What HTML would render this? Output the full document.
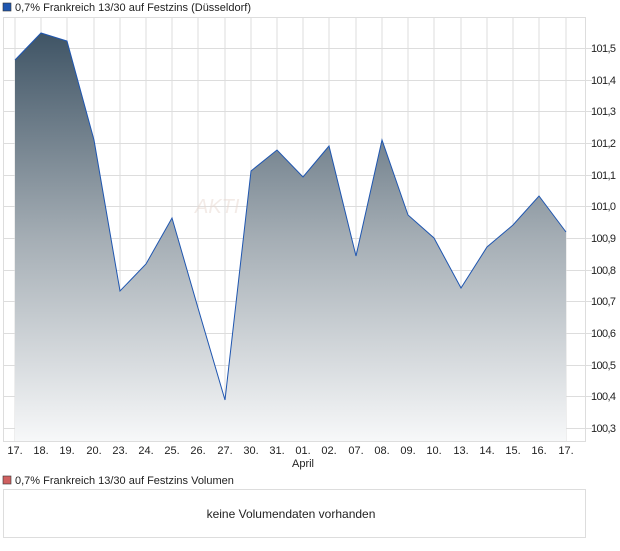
<!DOCTYPE html>
<html><head><style>
body{margin:0;background:#fff;font-family:"Liberation Sans",sans-serif;}
</style></head><body>
<svg width="620" height="546" xmlns="http://www.w3.org/2000/svg" font-family="Liberation Sans, sans-serif">
<defs><linearGradient id="g" gradientUnits="userSpaceOnUse" x1="0" y1="33" x2="0" y2="441">
<stop offset="0" stop-color="#3f5465"/><stop offset="0.5" stop-color="#a4adb4"/><stop offset="1" stop-color="#f7f8f9"/></linearGradient></defs>
<rect x="3" y="3" width="8" height="8" fill="#1f56b0" stroke="#333" stroke-width="0.6"/>
<text x="15" y="11" font-size="11" fill="#222">0,7% Frankreich 13/30 auf Festzins (Düsseldorf)</text>
<rect x="3.5" y="17.5" width="582" height="424" fill="#fff" stroke="#ddd"/>
<g stroke="#ddd" stroke-width="1">
<path d="M15 17V441M41 17V441M67 17V441M94 17V441M120 17V441M146 17V441M172 17V441M198 17V441M225 17V441M251 17V441M277 17V441M303 17V441M329 17V441M356 17V441M382 17V441M408 17V441M434 17V441M461 17V441M487 17V441M513 17V441M539 17V441M566 17V441"/>
<path d="M3 48.5H592M3 80.5H592M3 111.5H592M3 143.5H592M3 175.5H592M3 206.5H592M3 238.5H592M3 270.5H592M3 301.5H592M3 333.5H592M3 365.5H592M3 396.5H592M3 428.5H592"/>
</g>
<polygon fill="url(#g)" points="15,441 15,60 41,33 67,41 94,140 120,291 146,264 172,218 198,308 225,400 251,171 277,150 303,177 329,146 356,256 382,140 408,215 434,238 461,288 487,247 513,225 539,196 566,232 566,441"/>
<polyline fill="none" stroke="#1f56b0" stroke-width="1" points="15,60 41,33 67,41 94,140 120,291 146,264 172,218 198,308 225,400 251,171 277,150 303,177 329,146 356,256 382,140 408,215 434,238 461,288 487,247 513,225 539,196 566,232"/>
<text x="195" y="213" font-size="20" fill="#e8d8d0" opacity="0.5" font-style="italic">AKTI</text>
<g font-size="11" fill="#222">
<text x="591" y="52" textLength="25">101,5</text><text x="591" y="84" textLength="25">101,4</text><text x="591" y="115" textLength="25">101,3</text><text x="591" y="147" textLength="25">101,2</text><text x="591" y="179" textLength="25">101,1</text><text x="591" y="210" textLength="25">101,0</text><text x="591" y="242" textLength="25">100,9</text><text x="591" y="274" textLength="25">100,8</text><text x="591" y="305" textLength="25">100,7</text><text x="591" y="337" textLength="25">100,6</text><text x="591" y="369" textLength="25">100,5</text><text x="591" y="400" textLength="25">100,4</text><text x="591" y="432" textLength="25">100,3</text>
</g>
<g font-size="11" fill="#222" text-anchor="middle">
<text x="15" y="454">17.</text><text x="41" y="454">18.</text><text x="67" y="454">19.</text><text x="94" y="454">20.</text><text x="120" y="454">23.</text><text x="146" y="454">24.</text><text x="172" y="454">25.</text><text x="198" y="454">26.</text><text x="225" y="454">27.</text><text x="251" y="454">30.</text><text x="277" y="454">31.</text><text x="303" y="454">01.</text><text x="329" y="454">02.</text><text x="356" y="454">07.</text><text x="382" y="454">08.</text><text x="408" y="454">09.</text><text x="434" y="454">10.</text><text x="461" y="454">13.</text><text x="487" y="454">14.</text><text x="513" y="454">15.</text><text x="539" y="454">16.</text><text x="566" y="454">17.</text>
<text x="303" y="467">April</text>
</g>
<rect x="3" y="476" width="8" height="8" fill="#d06060" stroke="#333" stroke-width="0.6"/>
<text x="15" y="484" font-size="11" fill="#222">0,7% Frankreich 13/30 auf Festzins Volumen</text>
<rect x="3.5" y="489.5" width="582" height="48" fill="#fff" stroke="#ddd"/>
<text x="291" y="518" font-size="12" fill="#222" text-anchor="middle">keine Volumendaten vorhanden</text>
</svg>
</body></html>
